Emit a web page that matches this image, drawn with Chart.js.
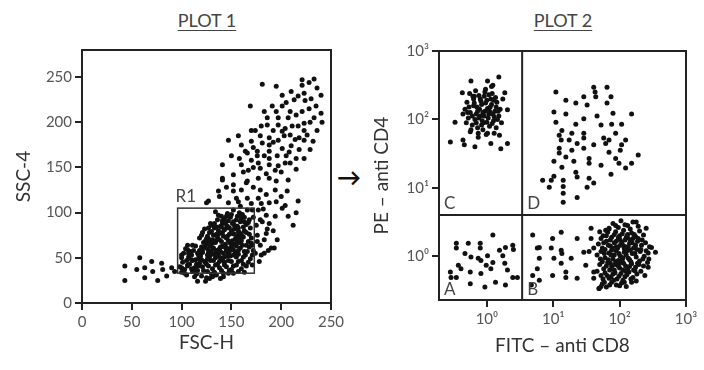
<!DOCTYPE html>
<html lang="en">
<head>
    <meta charset="UTF-8">
    <title>Flow cytometry gating</title>
    <script src="https://cdn.jsdelivr.net/npm/chart.js"></script>
    <style>
        body { margin: 0; background: #fff; font-family: Lato, "Open Sans", sans-serif; }
        #wrap { position: relative; width: 704px; height: 370px; }
        canvas { position: absolute; top: 0; }
        .plotTitle { position: absolute; top: 9px; width: 100px; text-align: center;
            font-size: 18px; color: #444; text-decoration: underline; text-underline-offset: 3px; }
        #arrow { position: absolute; left: 337px; top: 162px; font-size: 24px; font-weight: bold; color: #111; }
    </style>
</head>
<body>
<div id="wrap">
    <div class="plotTitle" style="left:157px">PLOT 1</div>
    <div class="plotTitle" style="left:513px">PLOT 2</div>
    <div id="arrow">→</div>
    <canvas id="plot1" width="352" height="370" style="left:0"></canvas>
    <canvas id="plot2" width="352" height="370" style="left:352px"></canvas>
</div>

<script>
    // plot 1: FSC-H / SSC-4
    const fscTicks = [0, 50, 100, 150, 200, 250];
    const sscTicks = [0, 50, 100, 150, 200, 250];
    const r1Gate = { x: [96, 173], y: [33, 105] };

    const plot1Upper = [
        [181,242],[221,247],[233,248],[221,241],[236,238],[201,230],[210,234],[223,232],[213,225],[224,224],
        [235,218],[169,218],[191,218],[201,218],[221,212],[209,212],[186,205],[197,205],[207,205],[233,205],
        [186,197],[197,197],[223,199],[211,196],[170,191],[174,191],[201,190],[223,191],[236,191],[209,186],
        [179,185],[218,183],[147,180],[157,185],[170,179],[188,183],[197,180],[232,179],[188,175],[210,174],
        [223,180],[201,171],[164,168],[176,168],[188,168],[176,163],[150,163],[188,160],[205,163],[223,160],
        [141,153],[160,153],[177,155],[197,152],[209,155],[167,147],[179,149],[194,147],[141,138],[152,142],
        [165,133],[177,138],[188,138],[207,136],[166,166],[141,136],[152,131],[166,135],[152,124],[137,124],
        [179,125],[194,125],[206,124],[155,116],[166,116],[177,116],[127,113],[188,111],[217,113],[147,111],
        [159,107],[166,103],[177,103],[201,105],[204,108],[179,92],[188,88],[194,96],[212,86],[169,83],
        [185,77],[179,64],[193,61],[183,55],[125,111],
        [195,240],[228,244],[240,230],[230,226],[217,229],[205,222],[228,215],[240,210],[215,208],[195,212],
        [183,212],[229,200],[217,196],[204,193],[192,191],[180,196],[241,200],[226,186],[214,181],[203,185],
        [192,178],[181,177],[172,172],[160,175],[218,170],[229,170],[208,167],[196,163],[183,163],[170,158],
        [158,160],[215,160],[204,155],[188,153],[172,150],[162,145],[200,145],[185,143],[215,148],[195,135],
        [172,128],[160,125],[145,128],[200,118],[185,120],[170,110],[157,112],[180,110],[195,112],[160,96],
        [168,92],[182,104],[192,80],[196,70],[176,68],[187,58],[181,90],[207,96],[215,100],[138,118]
    ];
    const plot1Tail = [
        [43,41],[43,25],[58,50],[55,37],[63,39],[63,28],[70,46],[71,35],[76,25],[80,44],
        [81,37],[85,30],[90,39],[93,35],[100,39],[103,33],[113,35],[116,24],[125,28],[133,31],
        [106,42],[110,48],[100,53],[106,59]
    ];
    const plot1Gated = [
        [134,101],[140,96],[146,99],[152,103],[158,100],[163,95],
        [130,86],[136,92],[141,88],[147,91],[153,86],[159,90],[165,87],[135,84],
        [123,82],[128,78],[133,83],[138,77],[143,81],[148,76],[153,82],[158,78],
        [163,80],[168,76],[126,74],[140,84],[150,79],
        [118,72],[122,67],[127,71],[131,66],[136,73],[140,68],[145,72],[149,66],
        [154,71],[158,67],[162,73],[167,68],[132,75],[144,65],[156,74],[120,75],
        [104,60],[109,57],[114,63],[118,58],[123,62],[127,56],[132,61],[136,57],[141,63],[145,58],
        [150,62],[154,56],[159,61],[163,57],[168,62],[172,58],[111,64],[125,65],[138,60],[152,59],[147,55],
        [100,50],[105,47],[110,53],[114,48],[119,52],[123,46],[128,51],[132,47],[137,53],[141,48],
        [146,52],[150,46],[155,51],[160,47],[164,53],[169,49],[116,55],[134,55],[157,54],[107,55],[143,45],
        [98,40],[103,37],[108,43],[113,39],[118,44],[122,36],[127,41],[131,38],[136,43],[140,36],
        [145,40],[150,37],[155,42],[160,38],[165,41],[111,35],[133,34],[124,45],
        [120,30],[128,27],[135,31],[142,29],[115,32],[147,33],[124,24],
        [137,80],[142,74],[146,85],[151,69],[139,62],[144,88],[148,60],[153,76],[131,70],[135,58],
        [129,88],[157,83],[161,64],[126,60],[142,55],[134,50],[149,52],[121,56],[117,49],[155,63],
        [171,64],[180,53],[183,70],[190,61],[175,86],[185,97],[176,75],[172,95],[178,46],[171,103],
        [186,82],[174,55],
        [137,97],[143,93],[149,95],[155,92],[161,98],
        [127,83],[133,88],[139,85],[145,83],[151,88],[156,85],[162,84],[167,89],
        [121,78],[125,71],[130,79],[135,76],[141,78],[146,74],[151,77],[156,70],
        [160,76],[165,78],[170,72],[134,69],[157,79],
        [106,64],[120,62],[124,69],[129,63],[134,67],[138,70],[143,62],[147,69],
        [151,64],[156,68],[160,69],[165,64],[170,66],[128,68],[153,65],
        [102,55],[107,51],[112,58],[117,53],[121,59],[126,53],[130,58],[135,52],[139,57],[143,51],
        [148,57],[152,53],[157,58],[162,51],[166,57],[171,53],[119,57],[131,54],[145,61],
        [101,45],[106,41],[111,47],[115,43],[120,48],[125,43],[129,47],[134,42],[138,46],[143,42],
        [147,47],[152,41],[157,46],[162,43],[167,45],[171,42],[117,41],[139,50],[126,49],
        [100,34],[105,31],[110,38],[116,36],[121,40],[126,35],[130,32],[138,39],[142,33],[148,36],
        [152,33],[157,35],[163,34],[113,29],[131,29],[139,27],
        [150,98],[156,96],[160,93],[145,96],[152,90],[163,90],[158,73],[148,83],[141,91]
    ];

    // plot 2: log10 of FITC-anti CD8 / PE-anti CD4 per quadrant
    const logTicks = [1, 10, 100, 1000];
    const logTickLabels = ['10\u2070', '10\u00b9', '10\u00b2', '10\u00b3'];
    const cd8Cut = 3.4;
    const cd4Cut = 4.0;

    const quadC = [
        [-0.24,2.56],[0.01,2.56],[0.18,2.62],[0.09,2.50],[-0.37,2.39],[0.27,2.39],[-0.19,2.34],[-0.03,2.40],
        [0.31,2.14],[-0.48,1.96],[-0.55,1.67],[-0.36,1.70],[-0.34,1.63],[-0.18,1.60],[0.06,1.65],[0.21,1.57],
        [0.31,1.65],[-0.13,1.74],[-0.25,1.82],[0.01,1.80],[0.19,1.77],
        [-0.30,2.25],[-0.25,2.10],[-0.20,2.30],[-0.18,2.00],[-0.15,2.18],[-0.12,2.35],[-0.10,2.05],[-0.08,2.22],
        [-0.05,1.95],[-0.03,2.12],[0.00,2.28],[0.02,2.02],[0.05,2.18],[0.08,2.38],[0.10,1.98],[0.12,2.12],
        [0.15,2.25],[0.18,2.05],[-0.28,2.02],[-0.33,2.15],[-0.22,1.92],[-0.14,1.88],[-0.06,1.85],[0.04,1.90],
        [0.14,1.88],[0.20,2.15],[-0.26,2.38],[-0.17,2.42],[-0.02,2.44],[0.06,2.30],[-0.11,2.15],[-0.04,2.05],
        [0.09,2.08],[-0.20,2.20],[0.01,2.16],[-0.09,2.27],[0.13,2.32],[-0.31,1.95],[0.22,1.95],[-0.16,2.08],
        [0.03,2.36],[-0.07,1.98],[0.16,2.00],[-0.24,1.85],[0.11,1.80],[-0.01,1.78],[-0.13,1.80],[0.24,2.30],
        [-0.36,2.08],[0.07,2.48],
        [-0.27,2.18],[-0.22,2.05],[-0.19,2.24],[-0.14,2.12],[-0.10,2.30],[-0.06,2.10],[-0.02,2.24],[0.03,2.08],
        [0.07,2.22],[0.11,2.04],[0.14,2.18],[-0.16,1.95],[-0.08,1.92],[0.00,1.96],[0.08,1.94],[-0.21,2.34],
        [-0.04,2.34],[0.10,2.28],[-0.12,2.02],[0.04,2.12],[-0.29,2.10],[0.17,2.12]
    ];
    const quadD = [
        [1.04,2.40],[1.61,2.47],[1.63,2.40],[1.64,2.33],[1.81,2.47],[1.87,2.33],[1.19,2.28],[1.34,2.24],
        [1.46,2.33],[1.51,2.21],[1.81,2.24],[1.01,2.11],[1.19,2.08],[1.46,2.01],[1.66,2.05],[1.90,2.09],
        [2.18,2.08],[1.04,1.96],[1.34,1.93],[1.72,1.92],[1.88,1.93],[2.03,1.93],[1.13,1.84],[1.09,1.77],
        [1.28,1.80],[1.46,1.80],[1.94,1.80],[1.12,1.70],[1.24,1.70],[1.36,1.65],[1.46,1.73],[1.61,1.63],
        [1.76,1.73],[1.84,1.70],[1.79,1.65],[2.09,1.70],[2.03,1.63],[1.09,1.58],[1.28,1.55],[1.46,1.58],
        [1.84,1.52],[2.01,1.55],[2.28,1.48],[1.09,1.51],[1.19,1.45],[1.31,1.39],[1.54,1.43],[1.54,1.36],
        [1.01,1.39],[1.13,1.30],[1.94,1.43],[1.99,1.36],[2.09,1.29],[2.18,1.36],[1.72,1.33],[1.87,1.20],
        [1.34,1.23],[1.36,1.16],[1.01,1.17],[0.97,1.11],[0.84,1.11],[0.94,1.01],[1.15,1.11],[1.15,1.02],
        [1.15,0.92],[1.15,0.79],[1.36,0.86],[1.54,1.14],[1.61,1.07],[1.51,1.01]
    ];
    const quadA = [
        [0.09,0.31],[-0.46,0.19],[-0.46,0.12],[-0.28,0.19],[-0.10,0.19],[-0.10,0.12],[-0.33,0.04],[-0.24,-0.01],
        [-0.13,-0.03],[0.01,0.01],[0.19,0.09],[0.28,0.13],[0.39,0.16],[0.24,0.01],[-0.43,-0.13],[-0.39,-0.18],
        [-0.25,-0.23],[-0.09,-0.25],[0.06,-0.18],[0.09,-0.09],[0.27,-0.10],[0.31,-0.20],[0.39,-0.31],[-0.54,-0.31],
        [-0.55,-0.23],[-0.46,-0.31],[-0.25,-0.40],[-0.03,-0.45],[0.13,-0.38],[0.28,-0.42],[-0.09,-0.06],[-0.01,-0.13],
        [0.46,-0.31],[0.40,0.10]
    ];
    const quadB = [
        [0.69,0.31],[0.79,0.13],[0.76,0.12],[0.99,0.26],[1.12,0.35],[0.97,0.12],[1.12,0.09],[1.13,0.04],
        [1.36,0.26],[1.57,0.41],[1.57,0.26],[1.72,0.26],[1.84,0.41],[0.79,-0.03],[1.01,-0.03],[1.27,-0.03],
        [1.46,0.06],[1.54,0.07],[1.61,0.12],[1.49,-0.13],[0.76,-0.18],[1.12,-0.10],[0.99,-0.28],[1.19,-0.23],
        [1.19,-0.31],[1.36,-0.32],[1.61,-0.23],[1.61,-0.32],[0.69,-0.28],[0.79,-0.35],[0.67,-0.42],[1.69,-0.47],
        [2.48,0.13],[2.54,0.06],[2.43,-0.16],[2.40,0.41],[2.25,0.50],
        [1.90,0.48],[2.02,0.52],[2.12,0.45],[2.20,0.50],[1.98,0.42],[2.28,0.44],[1.84,0.40],
        [1.75,0.30],[1.82,0.35],[1.88,0.28],[1.94,0.36],[2.00,0.30],[2.06,0.38],[2.12,0.27],[2.18,0.34],
        [2.24,0.29],[2.30,0.37],[2.36,0.31],[1.70,0.36],[2.08,0.24],
        [1.68,0.18],[1.74,0.12],[1.80,0.22],[1.86,0.15],[1.92,0.20],[1.97,0.12],[2.03,0.21],[2.09,0.14],
        [2.15,0.19],[2.21,0.12],[2.27,0.22],[2.33,0.16],[2.39,0.20],[2.45,0.14],[1.78,0.10],[2.00,0.25],[2.24,0.16],
        [1.66,0.02],[1.72,0.07],[1.78,-0.02],[1.84,0.05],[1.90,-0.04],[1.95,0.08],[2.01,0.00],[2.07,0.06],
        [2.13,-0.03],[2.19,0.04],[2.25,-0.01],[2.31,0.07],[2.37,0.00],[2.43,0.05],[1.88,0.09],[2.04,-0.05],[2.16,0.09],
        [1.70,-0.12],[1.76,-0.18],[1.82,-0.09],[1.88,-0.15],[1.94,-0.08],[2.00,-0.17],[2.06,-0.10],[2.12,-0.19],
        [2.18,-0.11],[2.24,-0.16],[2.30,-0.07],[2.36,-0.14],[2.42,-0.09],[1.98,-0.06],[2.09,-0.14],
        [1.72,-0.28],[1.78,-0.24],[1.84,-0.32],[1.90,-0.26],[1.96,-0.33],[2.02,-0.25],[2.08,-0.30],[2.14,-0.23],
        [2.20,-0.31],[2.26,-0.26],[2.32,-0.22],[1.66,-0.22],[2.38,-0.28],
        [1.74,-0.40],[1.80,-0.45],[1.88,-0.38],[1.95,-0.42],[2.03,-0.39],[2.10,-0.44],[2.18,-0.38],[1.69,-0.47],[2.25,-0.36],
        [1.95,0.14],[2.05,0.16],[2.10,0.02],[2.00,-0.10],[2.15,-0.05],[1.92,0.02],[2.20,0.26],[1.85,-0.20],[2.05,-0.20],[2.12,0.32],
        [1.80,0.30],[1.86,0.24],[1.92,0.32],[1.98,0.27],[2.04,0.33],[2.10,0.28],[2.16,0.24],[2.22,0.32],[2.28,0.26],
        [1.76,0.20],[1.83,0.16],[1.89,0.12],[1.95,0.22],[2.01,0.16],[2.07,0.11],[2.13,0.14],[2.19,0.20],[2.26,0.10],
        [2.32,0.10],[1.71,-0.04],[1.77,0.04],[1.83,-0.05],[1.87,0.02],[1.93,-0.12],[1.99,0.04],[2.05,-0.02],
        [2.11,0.08],[2.17,-0.08],[2.23,0.04],[2.29,-0.12],[2.35,-0.04],[1.74,-0.08],[1.80,-0.14],[1.86,-0.10],
        [1.92,-0.20],[1.98,-0.14],[2.03,-0.07],[2.09,-0.22],[2.15,-0.15],[2.21,-0.20],[2.27,-0.10],[1.75,-0.33],
        [1.81,-0.28],[1.87,-0.30],[1.93,-0.24],[1.99,-0.29],[2.05,-0.35],[2.11,-0.27],[2.17,-0.33],[2.23,-0.21],
        [1.77,-0.38],[1.85,-0.42],[1.91,-0.35],[2.00,-0.43],[2.07,-0.38],[1.72,-0.44],[1.79,0.38],[1.94,0.45],
        [2.08,0.46],[2.16,0.40],[2.34,0.24],[2.40,0.08],[2.44,-0.04]
    ];

    const FONT = 'Lato, "Open Sans", sans-serif';
    const INK = '#222';

    // frame round the plot area plus gate / quadrant overlays
    const framePlugin = {
        id: 'frame',
        afterDraw(chart, args, opts) {
            const { ctx, chartArea: a, scales } = chart;
            ctx.save();
            ctx.strokeStyle = INK;
            ctx.lineWidth = 2;
            ctx.strokeRect(a.left, a.top, a.right - a.left, a.bottom - a.top);
            ctx.font = '17px ' + FONT;
            ctx.fillStyle = '#444';
            if (opts.gate) {
                const g = opts.gate;
                const x0 = scales.x.getPixelForValue(g.x[0]), x1 = scales.x.getPixelForValue(g.x[1]);
                const y0 = scales.y.getPixelForValue(g.y[0]), y1 = scales.y.getPixelForValue(g.y[1]);
                ctx.strokeStyle = '#333';
                ctx.lineWidth = 1.5;
                ctx.strokeRect(x0, y1, x1 - x0, y0 - y1);
                ctx.textBaseline = 'bottom';
                ctx.fillText('R1', x0 - 2, y1 - 3);
            }
            if (opts.quad) {
                const vx = scales.x.getPixelForValue(opts.quad.x);
                const hy = scales.y.getPixelForValue(opts.quad.y);
                ctx.beginPath();
                ctx.moveTo(vx, a.top); ctx.lineTo(vx, a.bottom);
                ctx.moveTo(a.left, hy); ctx.lineTo(a.right, hy);
                ctx.stroke();
                ctx.textBaseline = 'bottom';
                ctx.fillText('C', a.left + 5, hy - 3);
                ctx.fillText('D', vx + 5, hy - 3);
                ctx.fillText('A', a.left + 5, a.bottom - 2);
                ctx.fillText('B', vx + 5, a.bottom - 2);
            }
            ctx.restore();
        }
    };

    function axis(extra) {
        return Object.assign({
            grid: { drawOnChartArea: false, tickLength: 7, color: INK, lineWidth: 2 },
            border: { color: INK, width: 2 },
            ticks: { color: '#555', font: { size: 15, family: FONT }, padding: 3, autoSkip: false, maxRotation: 0 }
        }, extra);
    }

    function dots(list) {
        return { data: list, backgroundColor: '#111', borderWidth: 0, pointRadius: 2.5, pointHoverRadius: 2.5 };
    }

    const titleFont = { size: 19, family: FONT };

    new Chart(document.getElementById('plot1'), {
        type: 'scatter',
        data: {
            datasets: [dots(plot1Upper.concat(plot1Tail, plot1Gated).map(([x, y]) => ({ x, y })))]
        },
        options: {
            responsive: false, animation: false, events: [],
            layout: { padding: { top: 50, right: 21, left: 0, bottom: 0 } },
            plugins: { legend: { display: false }, tooltip: { enabled: false }, frame: { gate: r1Gate } },
            scales: {
                x: axis({
                    type: 'linear', min: 0, max: 250,
                    afterBuildTicks: s => { s.ticks = fscTicks.map(v => ({ value: v })); },
                    title: { display: true, text: 'FSC-H', color: '#333', font: titleFont, padding: { top: 0, bottom: 16 } },
                    afterFit: s => { s.height = 67; }
                }),
                y: axis({
                    type: 'linear', min: 0, max: 280,
                    afterBuildTicks: s => { s.ticks = sscTicks.map(v => ({ value: v })); },
                    title: { display: true, text: 'SSC-4', color: '#333', font: titleFont, padding: { top: 12, bottom: 0 } },
                    afterFit: s => { s.width = 82; }
                })
            }
        },
        plugins: [framePlugin]
    });

    const toPoints = list => list.map(([lx, ly]) => ({ x: 10 ** lx, y: 10 ** ly }));
    const logLabel = (v, i) => logTickLabels[i];

    new Chart(document.getElementById('plot2'), {
        type: 'scatter',
        data: {
            datasets: [dots(toPoints(quadC.concat(quadD, quadA, quadB)))]
        },
        options: {
            responsive: false, animation: false, events: [],
            layout: { padding: { top: 51, right: 18, left: 0, bottom: 0 } },
            plugins: { legend: { display: false }, tooltip: { enabled: false }, frame: { quad: { x: cd8Cut, y: cd4Cut } } },
            scales: {
                x: axis({
                    type: 'logarithmic', min: 0.19, max: 1000,
                    afterBuildTicks: s => { s.ticks = logTicks.map(v => ({ value: v })); },
                    title: { display: true, text: 'FITC \u2013 anti CD8', color: '#333', font: titleFont, padding: { top: 0, bottom: 13 } },
                    afterFit: s => { s.height = 70; }
                }),
                y: axis({
                    type: 'logarithmic', min: 0.23, max: 1000,
                    afterBuildTicks: s => { s.ticks = logTicks.map(v => ({ value: v })); },
                    title: { display: true, text: 'PE \u2013 anti CD4', color: '#333', font: titleFont, padding: { top: 18, bottom: 0 } },
                    afterFit: s => { s.width = 87; }
                })
            }
        },
        plugins: [framePlugin]
    });
    Chart.getChart('plot2').options.scales.x.ticks.callback = logLabel;
    Chart.getChart('plot2').options.scales.y.ticks.callback = logLabel;
    Chart.getChart('plot2').update();
</script>
</body>
</html>
